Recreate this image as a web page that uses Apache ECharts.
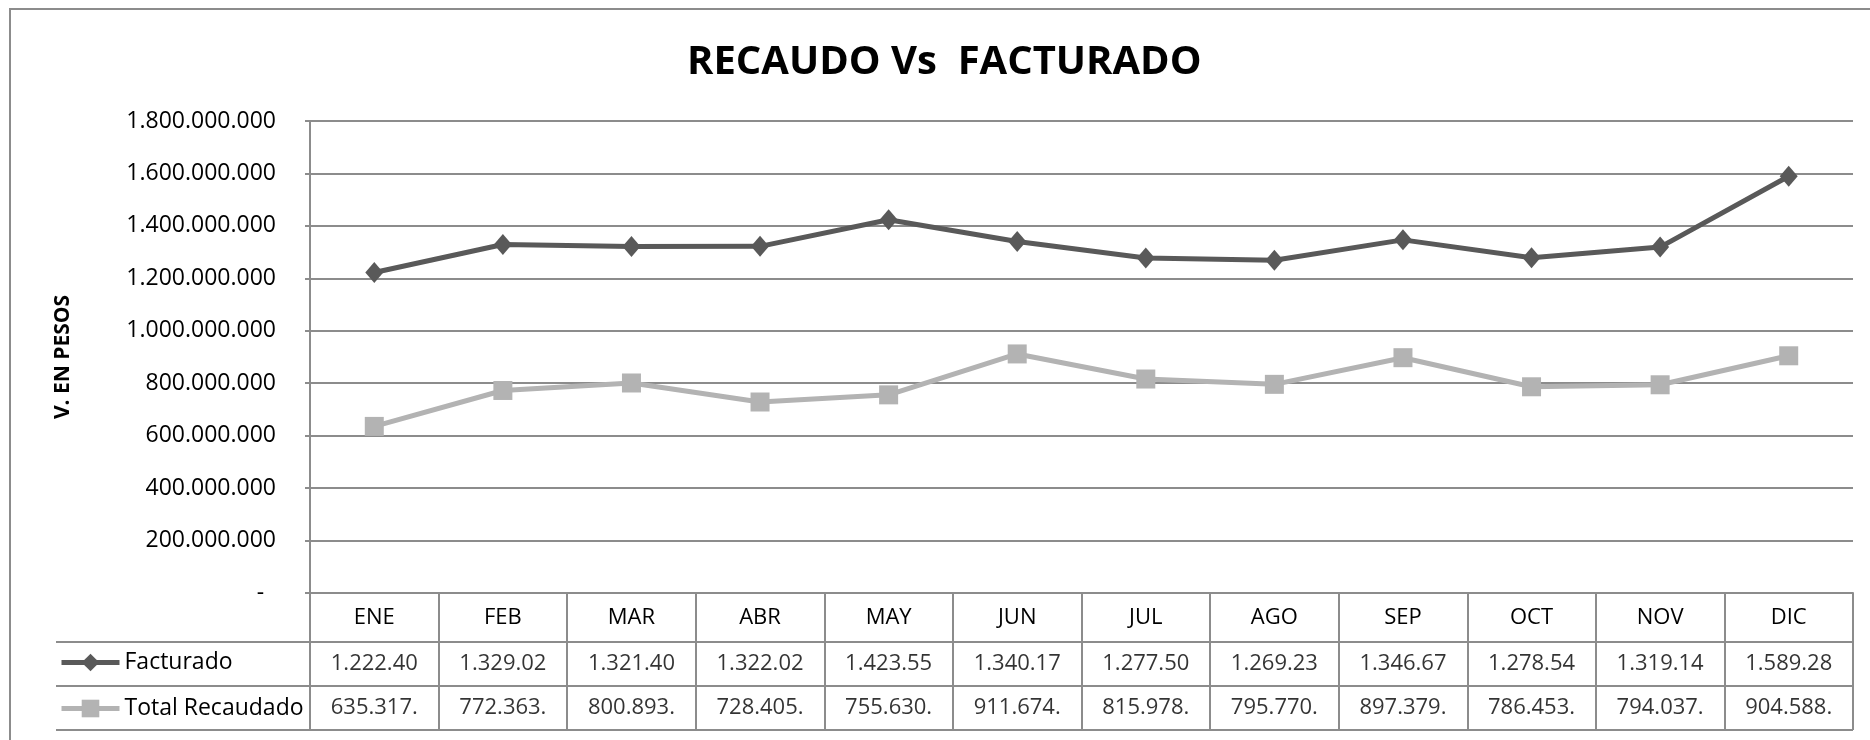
<!DOCTYPE html>
<html>
<head>
<meta charset="utf-8">
<title>RECAUDO Vs FACTURADO</title>
<script src="https://cdn.jsdelivr.net/npm/echarts@6/dist/echarts.min.js"></script>
<style>
  html, body { margin: 0; padding: 0; background: #fff; }
  #main { width: 1870px; height: 740px; }
</style>
</head>
<body>
<div id="main"></div>
<script>
  // datos
  var meses = ['ENE', 'FEB', 'MAR', 'ABR', 'MAY', 'JUN', 'JUL', 'AGO', 'SEP', 'OCT', 'NOV', 'DIC'];
  var facturado = [1222400000, 1329020000, 1321400000, 1322020000, 1423550000, 1340170000,
                   1277500000, 1269230000, 1346670000, 1278540000, 1319140000, 1589280000];
  var recaudado = [635317000, 772363000, 800893000, 728405000, 755630000, 911674000,
                   815978000, 795770000, 897379000, 786453000, 794037000, 904588000];
  var filas = ['Facturado', 'Total Recaudado'];

  var gris = '#8c8c8c';
  var fuente = 'Open Sans';

  function puntos(v) {
    return String(v).replace(/\B(?=(\d{3})+(?!\d))/g, '.');
  }
  // la celda de la tabla corta el texto como en excel
  function celda(v) {
    return puntos(v).slice(0, 8);
  }

  var tabla = [];
  meses.forEach(function (m, i) {
    tabla.push({ value: [i, 0], raw: facturado[i] });
    tabla.push({ value: [i, 1], raw: recaudado[i] });
  });

  var myChart = echarts.init(document.getElementById('main'));
  myChart.setOption({
    backgroundColor: '#fff',
    textStyle: { fontFamily: fuente },
    title: {
      text: 'RECAUDO Vs  FACTURADO',
      left: 682,
      top: 38,
      textStyle: { fontFamily: fuente, fontSize: 40, fontWeight: 'bold', color: '#000' }
    },
    graphic: [
      {
        type: 'rect',
        shape: { x: 10, y: 9, width: 1900, height: 800 },
        style: { fill: 'none', stroke: gris, lineWidth: 2 },
        silent: true
      }
    ],
    legend: {
      data: filas,
      orient: 'vertical',
      left: 54,
      top: 646,
      itemWidth: 58,
      itemHeight: 22,
      itemGap: 23,
      selectedMode: false,
      lineStyle: { width: 5 },
      textStyle: { fontFamily: fuente, fontSize: 23, color: '#000', lineHeight: 22 }
    },
    grid: [
      { left: 310, right: 17, top: 121, bottom: 147 },
      { left: 310, right: 17, top: 642, bottom: 10 }
    ],
    xAxis: [
      {
        type: 'category',
        gridIndex: 0,
        data: meses,
        boundaryGap: true,
        axisLine: { lineStyle: { color: gris, width: 2 } },
        axisTick: { show: true, interval: 0, length: 49, lineStyle: { color: gris, width: 2 } },
        axisLabel: { interval: 0, margin: 14, fontFamily: fuente, fontSize: 22, color: '#000' }
      },
      {
        type: 'category',
        gridIndex: 1,
        data: meses,
        boundaryGap: true,
        axisLine: { show: false },
        axisTick: { show: false },
        axisLabel: { show: false },
        splitLine: { show: true, interval: 0, lineStyle: { color: gris, width: 2 } }
      }
    ],
    yAxis: [
      {
        type: 'value',
        gridIndex: 0,
        min: 0,
        max: 1800000000,
        interval: 200000000,
        name: 'V. EN PESOS',
        nameLocation: 'middle',
        nameGap: 236,
        nameRotate: 90,
        nameTextStyle: { fontFamily: fuente, fontSize: 21, fontWeight: 'bold', color: '#000' },
        axisLine: { show: true, lineStyle: { color: gris, width: 2 } },
        axisTick: { show: true, length: 5, lineStyle: { color: gris, width: 2 } },
        axisLabel: {
          margin: 34,
          fontFamily: fuente,
          fontSize: 23,
          color: '#000',
          formatter: function (v) { return v === 0 ? '-  ' : puntos(v); }
        },
        splitLine: { lineStyle: { color: gris, width: 2 } }
      },
      {
        type: 'category',
        gridIndex: 1,
        data: filas,
        inverse: true,
        boundaryGap: true,
        axisLine: { show: true, lineStyle: { color: gris, width: 2 } },
        axisTick: { show: true, interval: 0, length: 254, lineStyle: { color: gris, width: 2 } },
        axisLabel: { show: false },
        splitLine: { show: true, interval: 0, lineStyle: { color: gris, width: 2 } }
      },
      {
        // borde izquierdo de la columna de leyenda
        type: 'category',
        gridIndex: 1,
        data: filas,
        offset: 254,
        axisLine: { show: true, lineStyle: { color: gris, width: 2 } },
        axisTick: { show: false },
        axisLabel: { show: false },
        splitLine: { show: false }
      }
    ],
    series: [
      {
        name: 'Facturado',
        type: 'line',
        xAxisIndex: 0,
        yAxisIndex: 0,
        data: facturado,
        symbol: 'diamond',
        symbolSize: [18, 21],
        color: '#595959',
        lineStyle: { width: 5, color: '#595959' },
        itemStyle: { color: '#595959' },
        z: 3
      },
      {
        name: 'Total Recaudado',
        type: 'line',
        xAxisIndex: 0,
        yAxisIndex: 0,
        data: recaudado,
        symbol: 'rect',
        symbolSize: 19,
        color: '#b3b3b3',
        lineStyle: { width: 5, color: '#b3b3b3' },
        itemStyle: { color: '#b3b3b3' },
        z: 3
      },
      {
        name: 'tabla',
        type: 'scatter',
        xAxisIndex: 1,
        yAxisIndex: 1,
        data: tabla,
        symbolSize: 0,
        silent: true,
        label: {
          show: true,
          position: 'inside',
          fontFamily: fuente,
          fontSize: 22,
          color: '#000',
          formatter: function (p) { return celda(p.data.raw); }
        }
      }
    ]
  });
</script>
</body>
</html>
